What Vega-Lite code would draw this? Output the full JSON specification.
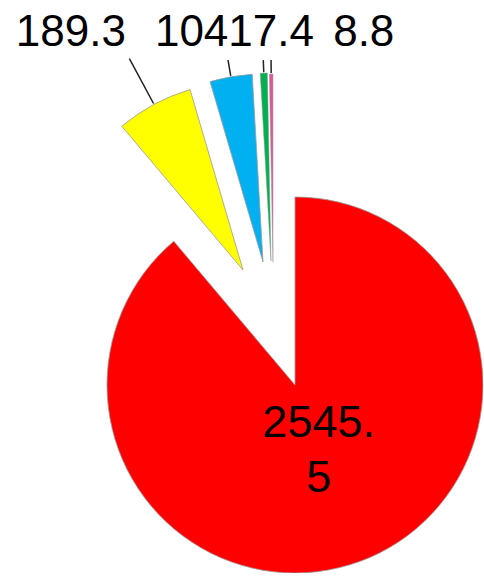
{
  "$schema": "https://vega.github.io/schema/vega-lite/v6.json",
  "width": 376,
  "height": 376,
  "autosize": {"type": "none"},
  "padding": {"left": 107, "top": 197, "right": 0, "bottom": 0},
  "background": "white",
  "config": {"view": {"stroke": null}},
  "data": {
    "values": [
      {"cat": "A", "value": 2545.5},
      {"cat": "B", "value": 189.3},
      {"cat": "C", "value": 104},
      {"cat": "D", "value": 17.4},
      {"cat": "E", "value": 8.8}
    ]
  },
  "encoding": {
    "theta": {"field": "value", "type": "quantitative", "stack": true},
    "detail": {"field": "cat", "type": "nominal"},
    "order": {"field": "cat", "type": "ordinal", "sort": "ascending"}
  },
  "layer": [
    {
      "mark": {"type": "arc", "stroke": "#9a9a9a", "strokeWidth": 0.8},
      "encoding": {
        "color": {"field": "cat", "type": "nominal", "legend": null, "scale": {"domain": ["A", "B", "C", "D", "E"], "range": ["#FF0000", "#FFFF00", "#00B0F0", "#00B050", "#D9589A"]}},
        "opacity": {"condition": {"test": "datum.cat === 'A'", "value": 1}, "value": 0}
      }
    },
    {
      "mark": {"type": "arc", "stroke": "#9a9a9a", "strokeWidth": 0.8, "xOffset": -52, "yOffset": -115},
      "encoding": {
        "color": {"field": "cat", "type": "nominal", "legend": null},
        "opacity": {"condition": {"test": "datum.cat === 'B'", "value": 1}, "value": 0}
      }
    },
    {
      "mark": {"type": "arc", "stroke": "#9a9a9a", "strokeWidth": 0.8, "xOffset": -32, "yOffset": -123},
      "encoding": {
        "color": {"field": "cat", "type": "nominal", "legend": null},
        "opacity": {"condition": {"test": "datum.cat === 'C'", "value": 1}, "value": 0}
      }
    },
    {
      "mark": {"type": "arc", "stroke": "#9a9a9a", "strokeWidth": 0.5, "xOffset": -24, "yOffset": -124},
      "encoding": {
        "color": {"field": "cat", "type": "nominal", "legend": null},
        "opacity": {"condition": {"test": "datum.cat === 'D'", "value": 1}, "value": 0}
      }
    },
    {
      "mark": {"type": "arc", "stroke": "#9a9a9a", "strokeWidth": 0.5, "xOffset": -22, "yOffset": -123},
      "encoding": {
        "color": {"field": "cat", "type": "nominal", "legend": null},
        "opacity": {"condition": {"test": "datum.cat === 'E'", "value": 1}, "value": 0}
      }
    },
    {
      "mark": {"type": "arc", "filled": false, "stroke": "#222222", "strokeWidth": 1.5, "padAngle": 3, "radius": 240, "radius2": 189, "xOffset": -52, "yOffset": -115},
      "encoding": {
        "opacity": {"condition": {"test": "datum.cat === 'B'", "value": 1}, "value": 0}
      }
    },
    {
      "mark": {"type": "arc", "filled": false, "stroke": "#222222", "strokeWidth": 1.5, "padAngle": 3, "radius": 205, "radius2": 189, "xOffset": -32, "yOffset": -123},
      "encoding": {
        "opacity": {"condition": {"test": "datum.cat === 'C'", "value": 1}, "value": 0}
      }
    },
    {
      "mark": {"type": "arc", "filled": false, "stroke": "#222222", "strokeWidth": 1.5, "padAngle": 3, "radius": 201, "radius2": 189, "xOffset": -24, "yOffset": -124},
      "encoding": {
        "opacity": {"condition": {"test": "datum.cat === 'D'", "value": 1}, "value": 0}
      }
    },
    {
      "mark": {"type": "arc", "filled": false, "stroke": "#222222", "strokeWidth": 1.5, "padAngle": 3, "radius": 202, "radius2": 189, "xOffset": -22, "yOffset": -123},
      "encoding": {
        "opacity": {"condition": {"test": "datum.cat === 'E'", "value": 1}, "value": 0}
      }
    },
    {
      "transform": [{"calculate": "replace(format(datum.value, '.1f'), '.', '.\\n')", "as": "wrapped"}],
      "mark": {"type": "text", "radius": 69, "dy": -27, "align": "center", "baseline": "middle", "font": "Liberation Sans", "fontSize": 45, "lineHeight": 55, "lineBreak": "\n", "fill": "#000000"},
      "encoding": {
        "text": {"field": "wrapped", "type": "nominal"},
        "opacity": {"condition": {"test": "datum.cat === 'A'", "value": 1}, "value": 0}
      }
    },
    {
      "mark": {"type": "text", "radius": 382.6, "dx": -43, "dy": -2, "align": "center", "baseline": "alphabetic", "font": "Liberation Sans", "fontSize": 44, "fill": "#000000"},
      "encoding": {
        "text": {"field": "value", "type": "quantitative", "format": ".1~f"},
        "opacity": {"condition": {"test": "datum.cat === 'B'", "value": 1}, "value": 0}
      }
    },
    {
      "mark": {"type": "text", "radius": 342, "dx": -45, "dy": -2, "align": "center", "baseline": "alphabetic", "font": "Liberation Sans", "fontSize": 44, "fill": "#000000"},
      "encoding": {
        "text": {"field": "value", "type": "quantitative", "format": ".1~f"},
        "opacity": {"condition": {"test": "datum.cat === 'C'", "value": 1}, "value": 0}
      }
    },
    {
      "mark": {"type": "text", "radius": 337.2, "dx": -11, "dy": -2, "align": "center", "baseline": "alphabetic", "font": "Liberation Sans", "fontSize": 44, "fill": "#000000"},
      "encoding": {
        "text": {"field": "value", "type": "quantitative", "format": ".1~f"},
        "opacity": {"condition": {"test": "datum.cat === 'D'", "value": 1}, "value": 0}
      }
    },
    {
      "mark": {"type": "text", "radius": 337, "dx": 72, "dy": -2, "align": "center", "baseline": "alphabetic", "font": "Liberation Sans", "fontSize": 44, "fill": "#000000"},
      "encoding": {
        "text": {"field": "value", "type": "quantitative", "format": ".1~f"},
        "opacity": {"condition": {"test": "datum.cat === 'E'", "value": 1}, "value": 0}
      }
    }
  ]
}
